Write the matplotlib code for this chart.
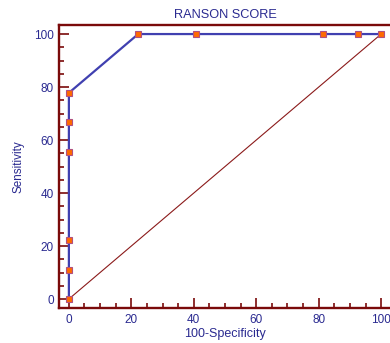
import matplotlib
matplotlib.use("Agg")
import matplotlib.pyplot as plt
from matplotlib.ticker import MultipleLocator

plt.rcParams["font.family"] = ["Liberation Sans", "DejaVu Sans"]

# ROC curve points for the Ranson score
false_pos = [0, 0, 0, 0, 0, 0, 22.2, 40.7, 81.5, 92.6, 100]
sensitivity = [0, 11.1, 22.2, 55.6, 66.7, 77.8, 100, 100, 100, 100, 100]
title = "RANSON SCORE"

red = "#7a0a0a"
blue = "#2a2a90"

fig = plt.figure(figsize=(3.9, 3.43), dpi=100)
ax = fig.add_axes([0.151, 0.102, 0.852, 0.825])

ax.plot([0, 100], [0, 100], color="#8b1a1a", lw=0.8, zorder=2)
ax.plot(false_pos, sensitivity, color="#4040b0", lw=1.6, zorder=3,
        marker="s", ms=5, mfc="#ff6a00", mec="#b05080", mew=0.8, clip_on=False)

ax.set_xlim(-3.2, 103.2)
ax.set_ylim(-3.4, 103.4)
ax.xaxis.set_major_locator(MultipleLocator(20))
ax.xaxis.set_minor_locator(MultipleLocator(5))
ax.yaxis.set_major_locator(MultipleLocator(20))
ax.yaxis.set_minor_locator(MultipleLocator(5))

for side in ("left", "bottom", "top"):
    ax.spines[side].set_color(red)
    ax.spines[side].set_linewidth(1.7)
ax.spines["right"].set_visible(False)

ax.tick_params(which="both", direction="in", color=red, width=1.2,
               labelcolor=blue, labelsize=8.5)
ax.tick_params(which="major", length=7)
ax.tick_params(which="minor", length=3.5)
ax.tick_params(axis="x", pad=4)

ax.set_title(title, color=blue, fontsize=9.2, pad=5)
ax.set_xlabel("100-Specificity", color=blue, fontsize=9, labelpad=2)
ax.set_ylabel("Sensitivity", color=blue, fontsize=8.4, labelpad=7)

fig.savefig("out.png", dpi=100)
